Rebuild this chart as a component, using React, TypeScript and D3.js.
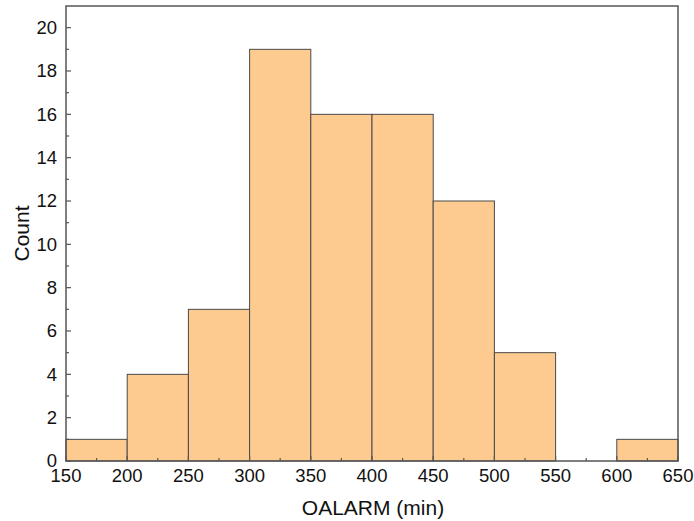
import React from "react";
import * as d3 from "d3";

const binStarts = [150, 200, 250, 300, 350, 400, 450, 500, 550, 600];
const binWidth = 50;
const counts = [1, 4, 7, 19, 16, 16, 12, 5, 0, 1];
const xTicks = [150, 200, 250, 300, 350, 400, 450, 500, 550, 600, 650];
const yTicks = [0, 2, 4, 6, 8, 10, 12, 14, 16, 18, 20];

export default function App() {
  const W = 694, H = 521;
  const L = 66, R = 678, T = 6, B = 461;
  const x = d3.scaleLinear().domain([150, 650]).range([L, R]);
  const y = d3.scaleLinear().domain([0, 21]).range([B, T]);
  const minorX = d3.range(175, 650, 50);
  const minorY = d3.range(1, 21, 2);
  const axisColor = "#555";
  const font = "Liberation Sans, Arial, sans-serif";
  return (
    <svg width={W} height={H} style={{ position: "absolute", left: 0, top: 0 }} fontFamily={font}>
      <rect x={0} y={0} width={W} height={H} fill="#fff" />
      {binStarts.map((s, i) =>
        counts[i] > 0 ? (
          <rect
            key={i}
            x={x(s)}
            y={y(counts[i])}
            width={x(s + binWidth) - x(s)}
            height={B - y(counts[i])}
            fill="#FDCB8F"
            stroke="#4a4a4a"
            strokeWidth={1}
          />
        ) : null
      )}
      {/* frame */}
      <rect x={L} y={T} width={R - L} height={B - T} fill="none" stroke={axisColor} strokeWidth={1.5} />
      {/* y ticks */}
      {yTicks.map((t) => (
        <g key={"y" + t}>
          <line x1={L} x2={L + 5} y1={y(t)} y2={y(t)} stroke={axisColor} strokeWidth={1.2} />
          <text x={L - 9} y={y(t)} dy="0.35em" textAnchor="end" fontSize={18.5} fill="#111">
            {t}
          </text>
        </g>
      ))}
      {minorY.map((t) => (
        <line key={"my" + t} x1={L} x2={L + 3} y1={y(t)} y2={y(t)} stroke={axisColor} strokeWidth={1.2} />
      ))}
      {/* x ticks */}
      {xTicks.map((t) => (
        <g key={"x" + t}>
          <line x1={x(t)} x2={x(t)} y1={B} y2={B - 5} stroke={axisColor} strokeWidth={1.2} />
          <text x={x(t)} y={B + 21} textAnchor="middle" fontSize={18.5} fill="#111">
            {t}
          </text>
        </g>
      ))}
      {minorX.map((t) => (
        <line key={"mx" + t} x1={x(t)} x2={x(t)} y1={B} y2={B - 3} stroke={axisColor} strokeWidth={1.2} />
      ))}
      <text x={373} y={515} textAnchor="middle" fontSize={21} fill="#111">
        OALARM (min)
      </text>
      <text transform={`translate(29, ${(T + B) / 2}) rotate(-90)`} textAnchor="middle" fontSize={21} fill="#111">
        Count
      </text>
    </svg>
  );
}
